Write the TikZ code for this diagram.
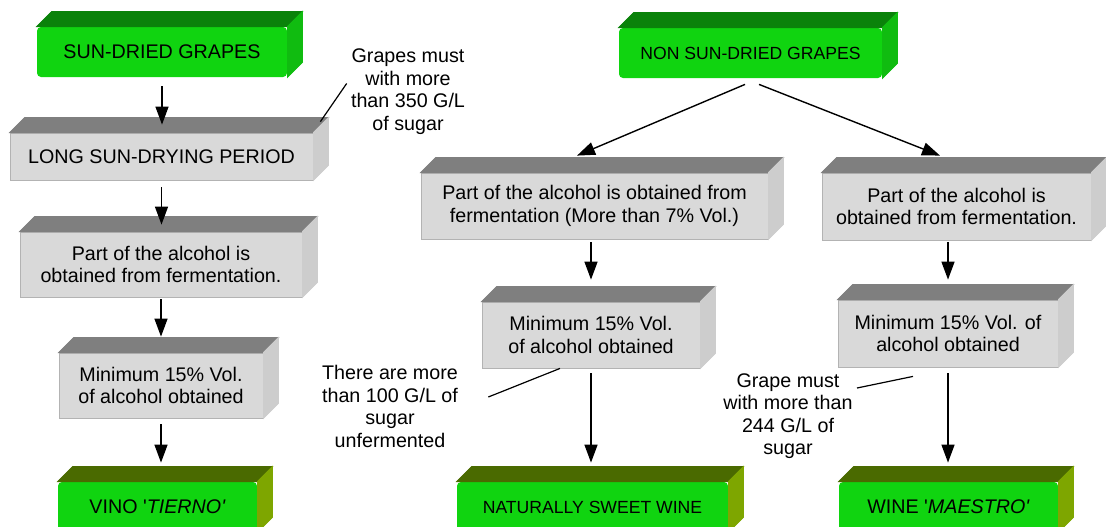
\documentclass[tikz,border=0pt]{standalone}
\usepackage{fontspec}
\setmainfont{Liberation Sans}
\newfontfamily\straightfont{Liberation Sans}[Ligatures=TeXOff]
\usetikzlibrary{arrows.meta,calc}
\definecolor{frontgreen}{HTML}{10D410}
\definecolor{topgreen}{HTML}{0A820A}
\definecolor{sidegreen}{HTML}{10BC10}
\definecolor{topolive}{HTML}{4A6A00}
\definecolor{sideolive}{HTML}{7EA600}
\definecolor{frontgray}{HTML}{D9D9D9}
\definecolor{topgray}{HTML}{7F7F7F}
\definecolor{sidegray}{HTML}{CDCDCD}
\definecolor{edgegray}{HTML}{B3B3B3}
\newcommand{\sq}{{\straightfont'}}
\newcommand{\cubefaces}[3]{%
	\filldraw[fill=#2, draw=#2] (#1.north west) -- ++(15,-15) -- ($(#1.north east)+(15,-15)$) -- (#1.north east) -- cycle;
	\filldraw[fill=#3, draw=#3] (#1.north east) -- ++(15,-15) -- ($(#1.south east)+(15,-15)$) -- (#1.south east) -- cycle;}
\begin{document}
\begin{tikzpicture}[x=0.5pt, y=-0.5pt,
		every node/.style={font=\fontsize{9.85}{11.3}\selectfont},
		graybox/.style={draw=edgegray, line width=0.4pt, fill=frontgray, inner sep=0pt, align=center},
		greenbox/.style={fill=frontgreen, rounded corners=2pt, inner sep=0pt, align=center},
		smalltext/.style={font=\fontsize{8.8}{10.5}\selectfont},
		note/.style={inner sep=0pt, align=center, font=\fontsize{9.85}{11.25}\selectfont},
		arr/.style={-{Triangle[width=6.5pt,length=9pt]}, line width=0.7pt},
		noteline/.style={line width=0.6pt}]
			\useasboundingbox (0,0) rectangle (1106,526);
			\clip (0,0) rectangle (1106,526);
			
			\node[greenbox, minimum width=125pt, minimum height=25pt] (b1) at (162,52) {SUN-DRIED GRAPES};
			\node[graybox, minimum width=151.5pt, minimum height=23.5pt] (b2) at (161.5,156.5) {LONG SUN-DRYING PERIOD};
			\node[graybox, minimum width=141pt, minimum height=32.5pt] (b3) at (161,264.5) {Part of the alcohol is\\obtained from fermentation.};
			\node[graybox, minimum width=102pt, minimum height=32.5pt] (b4) at (161,385.5) {Minimum 15\% Vol.\\of alcohol obtained};
			\node[greenbox, minimum width=99.5pt, minimum height=25pt] (b5) at (157.5,507) {VINO \sq\textit{TIERNO\sq}};
			
			\node[greenbox, smalltext, minimum width=131.5pt, minimum height=25pt] (ns) at (750.5,53) {NON SUN-DRIED GRAPES};
			\node[graybox, minimum width=173.5pt, minimum height=33pt] (mp) at (594.5,206) {Part of the alcohol is obtained from\\fermentation (More than 7\% Vol.)};
			\node[graybox, minimum width=109pt, minimum height=33pt] (mm) at (591,335) {Minimum 15\% Vol.\\of alcohol obtained};
			\node[greenbox, smalltext, minimum width=135.5pt, minimum height=25pt] (ms) at (592.5,507) {NATURALLY SWEET WINE};
			\node[graybox, minimum width=134.5pt, minimum height=33.5pt] (rp) at (956.5,206.5) {Part of the alcohol is\\obtained from fermentation.};
			\node[graybox, minimum width=110pt, minimum height=33.5pt] (rm) at (948,333.5) {Minimum 15\% Vol. of\\alcohol obtained};
			\node[greenbox, minimum width=109.5pt, minimum height=25pt] (rw) at (948.5,507) {WINE \sq\textit{MAESTRO\sq}};
			
			\cubefaces{b1}{topgreen}{sidegreen}
			\cubefaces{b2}{topgray}{sidegray}
			\cubefaces{b3}{topgray}{sidegray}
			\cubefaces{b4}{topgray}{sidegray}
			\cubefaces{b5}{topolive}{sideolive}
			\cubefaces{ns}{topgreen}{sidegreen}
			\cubefaces{mp}{topgray}{sidegray}
			\cubefaces{mm}{topgray}{sidegray}
			\cubefaces{ms}{topolive}{sideolive}
			\cubefaces{rp}{topgray}{sidegray}
			\cubefaces{rm}{topgray}{sidegray}
			\cubefaces{rw}{topolive}{sideolive}
			
			\node[note] (n1) at (408,91.5) {Grapes must\\with more\\than 350 G/L\\of sugar};
			\node[note] (n2) at (390,406.5) {There are more\\than 100 G/L of\\sugar\\unfermented};
			\node[note] (n3) at (788,416) {Grape must\\with more than\\244 G/L of\\sugar};
			
			\draw[noteline] ($(n1.west)+(-4,-8)$) -- ($(b2.north east)+(7,-11)$);
			\draw[noteline] ($(n2.east)+(30,-9.5)$) -- ($(mm.south)+(-31,0)$);
			\draw[noteline] ($(n3.east)+(4,-28)$) -- ($(rm.south)+(-35,9)$);
			
			\draw[arr] ($(b1.south)+(0,9)$) -- ($(b1.south |- b2.north)+(0,-8)$);
			\draw[arr] ($(b2.south)+(0,7)$) -- ($(b2.south |- b3.north)+(0,-7)$);
			\draw[arr] ($(b3.south)+(0,2)$) -- ($(b3.south |- b4.north)+(0,-16)$);
			\draw[arr] ($(b4.south)+(0,6)$) -- ($(b4.south |- b5.north)+(0,-19)$);
			
			\draw[arr] ($(ns.south)+(-5.5,6)$) -- ($(mp.north)+(-17.5,-17)$);
			\draw[arr] ($(ns.south)+(8.5,6)$) -- ($(rp.north)+(-16.5,-17)$);
			
			\draw[arr] ($(mp.south -| mm.north)+(0,3)$) -- ($(mm.north)+(0,-22)$);
			\draw[arr] ($(mm.south)+(0,5)$) -- ($(mm.south |- ms.north)+(0,-19)$);
			\draw[arr] ($(rp.south -| rm.north)+(0,1.5)$) -- ($(rm.north)+(0,-20)$);
			\draw[arr] ($(rm.south)+(0,6)$) -- ($(rm.south |- rw.north)+(0,-19)$);
		\end{tikzpicture}
\end{document}
